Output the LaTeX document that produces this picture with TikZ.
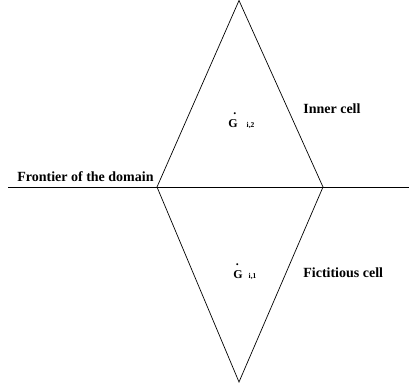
\documentclass[tikz,border=0pt]{standalone}
\usepackage{fontspec}
\setmainfont{Liberation Serif}
\usetikzlibrary{positioning}

\newcommand{\gdot}[1]{\makebox[0pt][l]{\hspace{#1}\raisebox{13pt}{.}}G}
\newcommand{\gsub}[1]{{\fontsize{7.5}{8}\selectfont #1}}
\tikzset{
  lbl/.style={anchor=base west, inner sep=0pt, font=\bfseries\fontsize{14}{16}\selectfont},
  glbl/.style={anchor=base west, inner sep=0pt, font=\bfseries\fontsize{12}{14}\selectfont}
}

\begin{document}
\begin{tikzpicture}[x=1pt,y=-1pt,line width=0.7pt]
  \useasboundingbox (0,0) rectangle (409,383);
  % corners of the two cells
  \coordinate (top) at (239,0.5);
  \coordinate (west) at (157,187);
  \coordinate (east) at (323,187);
  \coordinate (bottom) at (239,382);
  \coordinate (frontW) at (8,187);
  \coordinate (frontE) at (409,187);
  \draw (frontW) -- (frontE);
  \draw (west) -- (top) -- (east) -- (bottom) -- cycle;
  % labels
  \node[lbl] (frontier) at (17,181) {Frontier of the domain};
  \node[lbl] (inner) at (303,113) {Inner cell};
  \node[lbl] (fict) at (303,277) {Fictitious cell};
  \node[glbl] (g2) at (228,127) {\gdot{5pt}\hspace{9pt}\gsub{i,2}};
  \node[glbl] (g1) at (233,278) {\gdot{2.5pt}\hspace{6pt}\gsub{i,1}};
\end{tikzpicture}
\end{document}
